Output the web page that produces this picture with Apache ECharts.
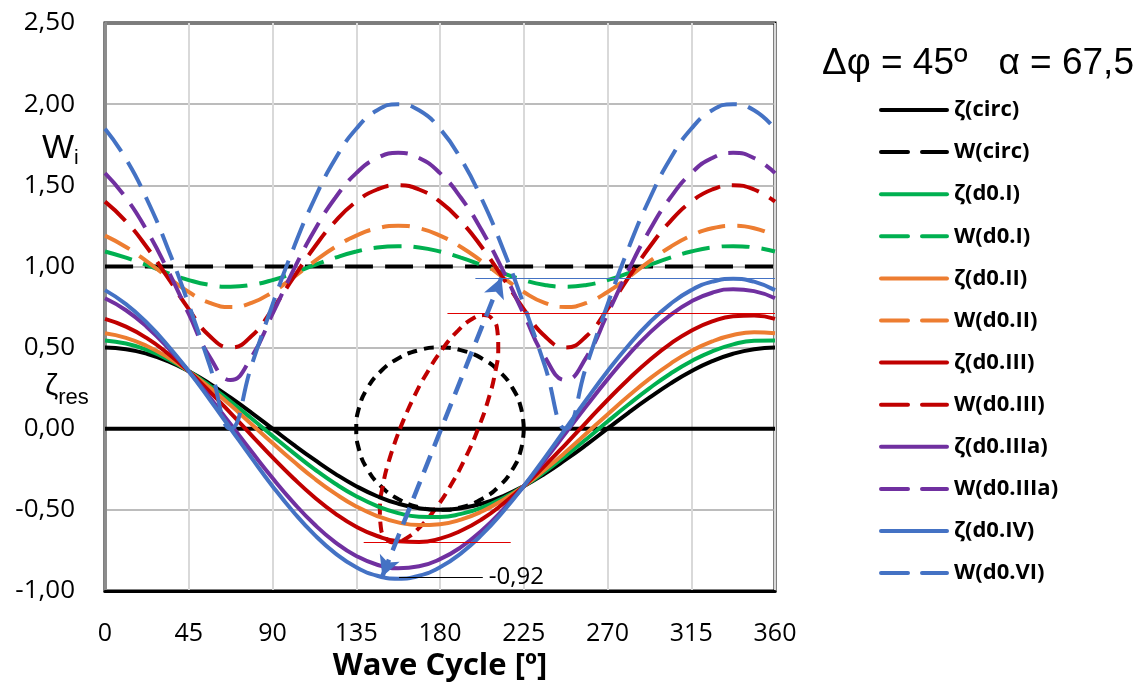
<!DOCTYPE html>
<html><head><meta charset="utf-8">
<script src="https://cdn.jsdelivr.net/npm/echarts@6/dist/echarts.min.js"></script>
<style>html,body{margin:0;padding:0;background:#fff}#c{width:1142px;height:683px}</style>
</head><body><div id="c"></div>
<script>
// ---- data ----
const xDeg = [0,11.25,22.5,33.75,45,56.25,67.5,78.75,90,101.25,112.5,123.75,135,146.25,157.5,168.75,
              180,191.25,202.5,213.75,225,236.25,247.5,258.75,270,281.25,292.5,303.75,315,326.25,337.5,348.75,360];
const xTicks = [0,45,90,135,180,225,270,315,360];
const yTicks = [-1,-0.5,0,0.5,1,1.5,2,2.5];

const zCirc = [0.5,0.490,0.462,0.416,0.354,0.278,0.191,0.098,0,-0.098,-0.191,-0.278,-0.354,-0.416,-0.462,-0.490,
               -0.5,-0.490,-0.462,-0.416,-0.354,-0.278,-0.191,-0.098,0,0.098,0.191,0.278,0.354,0.416,0.462,0.490,0.5];
const wCirc = [1,1,1,1,1,1,1,1,1,1,1,1,1,1,1,1,1,1,1,1,1,1,1,1,1,1,1,1,1,1,1,1,1];
const zI = [0.544,0.525,0.486,0.428,0.354,0.266,0.167,0.063,-0.044,-0.149,-0.249,-0.339,-0.416,-0.477,-0.520,-0.542,
            -0.544,-0.525,-0.486,-0.428,-0.354,-0.266,-0.167,-0.063,0.044,0.149,0.249,0.339,0.416,0.477,0.520,0.542,0.544];
const wI = [1.092,1.054,1.008,0.959,0.916,0.886,0.875,0.886,0.916,0.959,1.008,1.054,1.092,1.117,1.125,1.117,
            1.092,1.054,1.008,0.959,0.916,0.886,0.875,0.886,0.916,0.959,1.008,1.054,1.092,1.117,1.125,1.117,1.092];
const zII = [0.588,0.560,0.510,0.440,0.354,0.253,0.144,0.028,-0.088,-0.201,-0.307,-0.400,-0.479,-0.538,-0.577,-0.594,
             -0.588,-0.560,-0.510,-0.440,-0.354,-0.253,-0.144,-0.028,0.088,0.201,0.307,0.400,0.479,0.538,0.577,0.594,0.588];
const wII = [1.190,1.120,1.031,0.933,0.842,0.775,0.750,0.775,0.842,0.933,1.031,1.120,1.190,1.235,1.250,1.235,
             1.190,1.120,1.031,0.933,0.842,0.775,0.750,0.775,0.842,0.933,1.031,1.120,1.190,1.235,1.250,1.235,1.190];
const zIII = [0.677,0.629,0.558,0.464,0.354,0.229,0.096,-0.041,-0.177,-0.305,-0.422,-0.523,-0.604,-0.661,-0.693,-0.698,
              -0.677,-0.629,-0.558,-0.464,-0.354,-0.229,-0.096,0.041,0.177,0.305,0.422,0.523,0.604,0.661,0.693,0.698,0.677];
const wIII = [1.399,1.278,1.118,0.931,0.737,0.571,0.500,0.571,0.737,0.931,1.118,1.278,1.399,1.474,1.500,1.474,
              1.399,1.278,1.118,0.931,0.737,0.571,0.500,0.571,0.737,0.931,1.118,1.278,1.399,1.474,1.500,1.474,1.399];
const zIIIa = [0.804,0.730,0.627,0.500,0.354,0.194,0.027,-0.141,-0.304,-0.455,-0.589,-0.700,-0.784,-0.838,-0.860,-0.848,
               -0.804,-0.730,-0.627,-0.500,-0.354,-0.194,-0.027,0.141,0.304,0.455,0.589,0.700,0.784,0.838,0.860,0.848,0.804];
const wIIIa = [1.575,1.423,1.221,0.977,0.707,0.443,0.300,0.443,0.707,0.977,1.221,1.423,1.575,1.668,1.700,1.668,
               1.575,1.423,1.221,0.977,0.707,0.443,0.300,0.443,0.707,0.977,1.221,1.423,1.575,1.668,1.700,1.668,1.575];
const zIV = [0.854,0.768,0.653,0.513,0.354,0.180,0,-0.180,-0.354,-0.513,-0.653,-0.768,-0.854,-0.906,-0.924,-0.906,
             -0.854,-0.768,-0.653,-0.513,-0.354,-0.180,0,0.180,0.354,0.513,0.653,0.768,0.854,0.906,0.924,0.906,0.854];
const wVI = [1.848,1.663,1.414,1.111,0.765,0.390,0.000,0.390,0.765,1.111,1.414,1.663,1.848,1.962,2.000,1.962,
             1.848,1.663,1.414,1.111,0.765,0.390,0.000,0.390,0.765,1.111,1.414,1.663,1.848,1.962,2.000,1.962,1.848];

// orbit shapes (x in degrees, y in ζ units)
const circX = [225,223.5,219.0,211.8,202.5,191.6,180,168.4,157.5,148.2,141.0,136.5,135,136.5,141.0,148.2,157.5,168.4,180,191.6,202.5,211.8,219.0,223.5,225];
const circY = [0,0.129,0.25,0.354,0.433,0.483,0.5,0.483,0.433,0.354,0.25,0.129,0,-0.129,-0.25,-0.354,-0.433,-0.483,-0.5,-0.483,-0.433,-0.354,-0.25,-0.129,0];
const ellX = [158.5,165.4,173.3,181.6,189.8,197.2,203.5,208.1,210.8,211.3,209.7,206.0,200.5,193.6,185.7,177.4,169.2,161.8,155.5,150.9,148.2,147.7,149.3,153.0,158.5];
const ellY = [0,0.181,0.35,0.495,0.606,0.676,0.7,0.676,0.606,0.495,0.35,0.181,0,-0.181,-0.35,-0.495,-0.606,-0.676,-0.7,-0.676,-0.606,-0.495,-0.35,-0.181,0];

// annotation lines [x0,y0,x1,y1]
const redTop = [184,0.71,360,0.71];
const redBottom = [139,-0.70,218,-0.70];
const blueTop = [199,0.93,360,0.93];
const minLine = [158,-0.915,203,-0.915];
const minLabel = '-0,92';
const arrowLine = [149,-0.91,213,0.93];

const legendTitle = 'Δφ = 45º   α = 67,5';
const names = ['ζ(circ)','W(circ)','ζ(d0.I)','W(d0.I)','ζ(d0.II)','W(d0.II)','ζ(d0.III)','W(d0.III)','ζ(d0.IIIa)','W(d0.IIIa)','ζ(d0.IV)','W(d0.VI)'];
const seriesVals = [zCirc,wCirc,zI,wI,zII,wII,zIII,wIII,zIIIa,wIIIa,zIV,wVI];
const colors = ['#000000','#000000','#00B050','#00B050','#ED7D31','#ED7D31','#C00000','#C00000','#7030A0','#7030A0','#4472C4','#4472C4'];

// ---- chart ----
const chart = echarts.init(document.getElementById('c'));
const zip = (xs, ys) => xs.map((x, i) => [x, ys[i]]);
const fmt = v => v.toFixed(2).replace('.', ',');

const solidIcon = 'path://M2,0H68A2,2 0 0 1 68,4H2A2,2 0 0 1 2,0Z';
const dashIcon = 'path://M2,0H29A2,2 0 0 1 29,4H2A2,2 0 0 1 2,0ZM43,0H68A2,2 0 0 1 68,4H43A2,2 0 0 1 43,0Z';

const series = [];
series.push({
  name: '_zero', type: 'line', data: [[0,0],[360,0]], symbol: 'none', silent: true,
  lineStyle: {color: '#000', width: 4}, z: 2,
  markLine: {
    silent: true, symbol: 'none', animation: false,
    data: [
      [{coord:[redTop[0],redTop[1]], lineStyle:{color:'#E00000', width:1.2, type:'solid'}}, {coord:[redTop[2],redTop[3]]}],
      [{coord:[redBottom[0],redBottom[1]], lineStyle:{color:'#E00000', width:1.2, type:'solid'}}, {coord:[redBottom[2],redBottom[3]]}],
      [{coord:[blueTop[0],blueTop[1]], lineStyle:{color:'#4472C4', width:1.2, type:'solid'}}, {coord:[blueTop[2],blueTop[3]]}],
      [{coord:[minLine[0],minLine[1]], lineStyle:{color:'#000', width:1.2, type:'solid'},
        label:{show:true, position:'end', formatter: minLabel, color:'#000', fontSize:24, fontFamily:'Open Sans', distance:6}},
       {coord:[minLine[2],minLine[3]]}],
      [{coord:[arrowLine[0],arrowLine[1]], symbol:'arrow', symbolSize:[16,20],
        lineStyle:{color:'#4472C4', width:4.5, type:[18,10]}},
       {coord:[arrowLine[2],arrowLine[3]], symbol:'arrow', symbolSize:[16,20]}]
    ],
    label: {show:false}
  }
});
series.push({name:'_circ', type:'line', data: zip(circX, circY), symbol:'none', smooth:0.5, silent:true,
  lineStyle:{color:'#000', width:4, type:[10,7]}, z: 3});
series.push({name:'_ell', type:'line', data: zip(ellX, ellY), symbol:'none', smooth:0.5, silent:true,
  lineStyle:{color:'#C00000', width:4, type:[11,7]}, z: 3});

names.forEach((n, i) => {
  const dashed = n.startsWith('W');
  series.push({
    name: n, type: 'line', data: zip(xDeg, seriesVals[i]), symbol: 'none',
    smooth: 0.5,
    lineStyle: {color: colors[i], width: 4, type: dashed ? [28, 12] : 'solid'},
    itemStyle: {color: colors[i]},
    z: 4
  });
});

chart.setOption({
  animation: false,
  backgroundColor: '#fff',
  grid: {left: 105, right: 367, top: 23, bottom: 92, show: true, borderColor: '#000', borderWidth: 3,
         backgroundColor:'transparent', containLabel: false, outerBoundsMode: 'none'},
  xAxis: {
    type: 'value', min: 0, max: 360, interval: 45,
    axisLine: {show: true, onZero: false, lineStyle: {color: '#000', width: 3}},
    axisTick: {show: false},
    axisLabel: {color: '#000', fontSize: 25, fontFamily: 'Open Sans', margin: 30,
      formatter: v => xTicks.includes(v) ? String(v) : ''},
    splitLine: {show: true, lineStyle: {color: '#D9D9D9', width: 2}},
    name: 'Wave Cycle [º]', nameLocation: 'middle', nameGap: 56,
    nameTextStyle: {color: '#000', fontSize: 31, fontWeight: 'bold', fontFamily: 'Open Sans'}
  },
  yAxis: {
    type: 'value', min: -1, max: 2.5, interval: 0.5,
    axisLine: {show: true, lineStyle: {color: '#8C8C8C', width: 3}},
    axisTick: {show: false},
    axisLabel: {color: '#000', fontSize: 26, fontFamily: 'Open Sans', margin: 30,
      formatter: v => yTicks.includes(v) ? fmt(v) : ''},
    splitLine: {show: true, lineStyle: {color: '#A6A6A6', width: 1.5}}
  },
  legend: {
    data: names.map(n => ({name: n, icon: n.startsWith('W') ? dashIcon : solidIcon})),
    orient: 'vertical', left: 874, top: 94,
    itemWidth: 70, itemHeight: 4, itemGap: 20.1,
    textStyle: {color: '#000', fontSize: 22, fontWeight: 'bold', fontFamily: 'Open Sans', lineHeight: 22},
    selectedMode: false
  },
  graphic: [
    {type: 'text', left: 822, top: 45, style: {text: legendTitle, fontSize: 37, fontFamily: 'Liberation Sans', fill: '#000'}},
    {type: 'text', left: 42, top: 132, style: {
      text: '{a|W}{b|i}', rich: {a: {fontSize: 34, fontFamily: 'Liberation Sans', fill:'#000'}, b: {fontSize: 21, fontFamily: 'Liberation Sans', fill:'#000', padding:[18,0,0,0]}}}},
    {type: 'text', left: 45, top: 372, style: {
      text: '{a|ζ}{b|res}', rich: {a: {fontSize: 30, fontFamily: 'Liberation Sans', fill:'#000'}, b: {fontSize: 22, fontFamily: 'Liberation Sans', fill:'#000', padding:[22,0,0,0]}}}}
  ],
  series: series
});
</script></body></html>
